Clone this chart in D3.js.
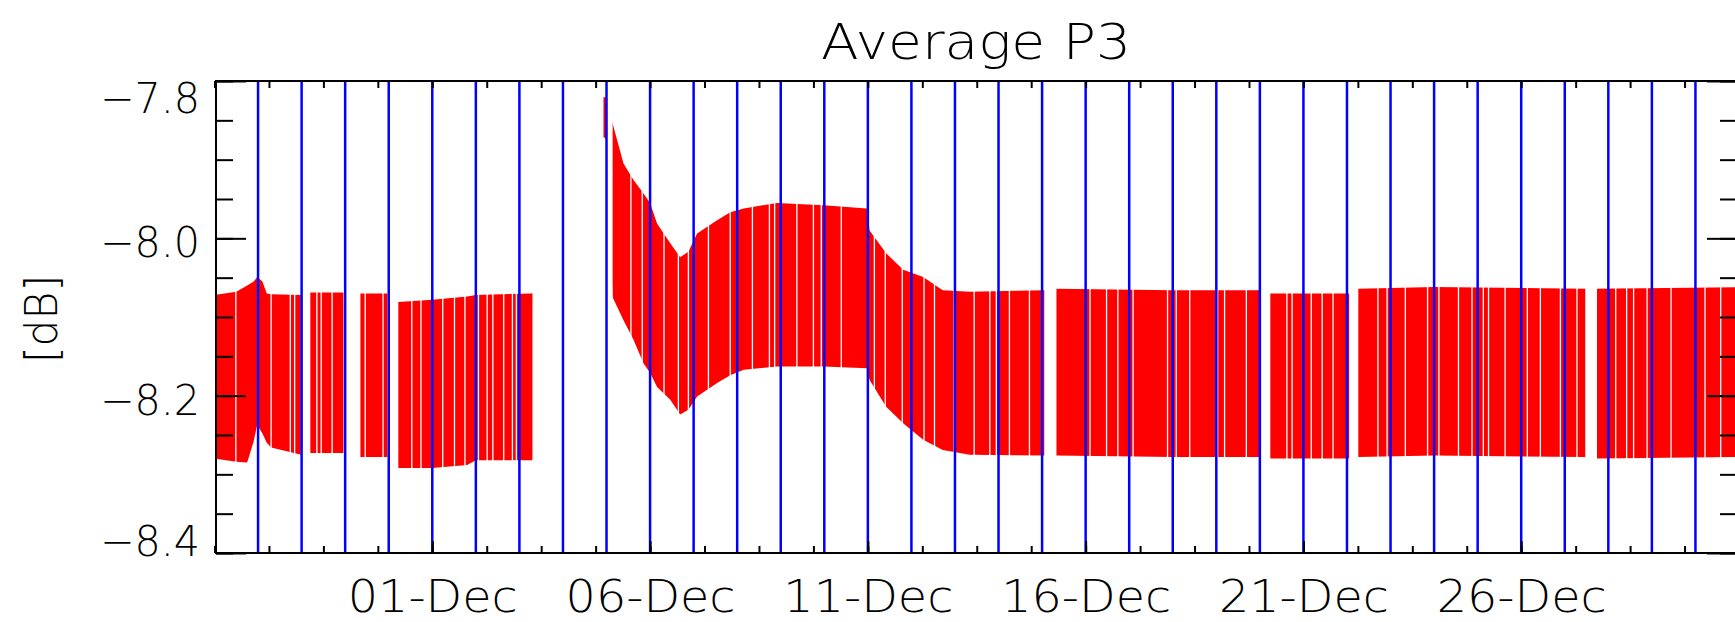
<!DOCTYPE html>
<html>
<head>
<meta charset="utf-8">
<script src="https://cdn.jsdelivr.net/npm/d3@7"></script>
<style>
  html, body { margin: 0; padding: 0; background: #fff; }
  svg { display: block; }
  text { font-family: "DejaVu Sans", Lato, sans-serif; font-weight: 200; fill: #000; }
</style>
</head>
<body>
<div id="chart"></div>
<script>
// time is kept as days since 26-Nov 00:00
const START = new Date(2013, 10, 26);
const SPAN_DAYS = 35;

// blocks where samples exist [start, end] (days)
const segStart = [0.03, 2.20, 3.35, 4.22, 8.93, 9.14, 19.33, 24.24, 26.26, 31.74];
const segEnd   = [1.98, 2.96, 3.97, 7.30, 9.01, 19.05, 24.01, 26.05, 31.47, 34.95];

// spread of the P3 samples: upper and lower edge (dB) at each knot
const envDay = [0.00, 0.50, 0.75, 0.90, 0.98, 1.10, 1.20, 1.30, 1.99,
  2.20, 2.96, 3.35, 3.97, 4.22, 5.00, 5.80, 6.00, 7.30,
  8.93, 9.01, 9.14, 9.39, 9.62, 9.85, 10.00, 10.16, 10.46, 10.69, 10.88, 11.08,
  11.54, 11.84, 12.15, 12.91, 13.98, 14.98, 15.04, 15.42, 15.81, 16.27, 16.72, 17.34, 19.05,
  19.33, 22.00, 24.01, 24.24, 26.05, 26.26, 28.00, 31.47, 31.74, 34.95];
const envHi = [-8.072, -8.068, -8.060, -8.055, -8.049, -8.055, -8.070, -8.071, -8.072,
  -8.069, -8.069, -8.070, -8.070, -8.081, -8.078, -8.074, -8.072, -8.070,
  -7.820, -7.822, -7.854, -7.905, -7.926, -7.943, -7.955, -7.981, -8.006, -8.024, -8.017, -7.994,
  -7.977, -7.967, -7.962, -7.955, -7.958, -7.962, -7.990, -8.019, -8.040, -8.049, -8.066, -8.068, -8.066,
  -8.064, -8.066, -8.066, -8.070, -8.070, -8.064, -8.062, -8.064, -8.064, -8.062];
const envLo = [-8.280, -8.284, -8.285, -8.258, -8.237, -8.248, -8.260, -8.266, -8.275,
  -8.273, -8.273, -8.278, -8.278, -8.292, -8.292, -8.288, -8.282, -8.282,
  -7.871, -7.875, -8.075, -8.104, -8.129, -8.159, -8.171, -8.189, -8.205, -8.224, -8.218, -8.201,
  -8.184, -8.174, -8.167, -8.163, -8.163, -8.165, -8.180, -8.214, -8.235, -8.256, -8.269, -8.275, -8.276,
  -8.276, -8.278, -8.278, -8.280, -8.280, -8.278, -8.276, -8.278, -8.280, -8.278];

// short dropouts inside the blocks (days)
const dropDay = [0.49, 1.30, 1.74, 1.84, 2.35, 2.45, 2.70, 3.46, 3.87, 4.53, 4.74,
  5.24, 5.51, 5.75, 6.06, 6.26, 6.39, 6.64, 6.84, 6.93,
  9.56, 9.82, 10.32, 10.65, 10.88, 11.34, 11.84, 12.35, 12.74, 12.86, 13.37,
  13.75, 13.93, 14.39, 15.15, 15.40, 15.79, 16.29, 16.53, 16.98, 17.44, 17.80,
  17.95, 18.25, 18.71, 20.10, 20.48, 20.74, 21.09, 21.88, 22.08, 22.39, 23.03,
  23.19, 23.69, 24.62, 24.74, 25.18, 25.43, 25.68, 26.71, 26.92, 27.34, 27.85,
  28.11, 28.56, 28.87, 29.13, 29.25, 29.63, 30.14, 30.44, 30.90, 31.28, 32.17,
  32.42, 32.58, 32.89, 33.44, 34.22, 34.58];

const yTicks = [-8.4, -8.2, -8.0, -7.8];
const labelDays = [5, 10, 15, 20, 25, 30];

const W = 1735, H = 622;
const pL = 216, pR = 1737, pT = 81, pB = 553;

const day = d => new Date(START.getTime() + d * 864e5);

const x = d3.scaleTime()
  .domain([START, day(SPAN_DAYS)])
  .range([214.5, 1739]);
const y = d3.scaleLinear()
  .domain([-8.4, -7.8])
  .range([pB, pT]);

const svg = d3.select('#chart').append('svg')
  .attr('width', W)
  .attr('height', H);

svg.append('clipPath').attr('id', 'plot')
  .append('rect')
  .attr('x', pL).attr('y', pT)
  .attr('width', pR - pL).attr('height', pB - pT);

svg.append('clipPath').attr('id', 'segs')
  .selectAll('rect')
  .data(d3.range(segStart.length))
  .join('rect')
  .attr('x', i => x(day(segStart[i])))
  .attr('width', i => x(day(segEnd[i])) - x(day(segStart[i])))
  .attr('y', pT)
  .attr('height', pB - pT);

const env = envDay.map((d, i) => ({ d, hi: envHi[i], lo: envLo[i] }));

const plot = svg.append('g').attr('clip-path', 'url(#plot)');
const data = plot.append('g').attr('clip-path', 'url(#segs)');

data.append('path')
  .datum(env)
  .attr('fill', '#ff0000')
  .attr('d', d3.area()
    .x(p => x(day(p.d)))
    .y0(p => y(p.lo))
    .y1(p => y(p.hi)));

data.selectAll('line.drop')
  .data(dropDay)
  .join('line')
  .attr('class', 'drop')
  .attr('x1', d => x(day(d))).attr('x2', d => x(day(d)))
  .attr('y1', pT).attr('y2', pB)
  .attr('stroke', '#fff')
  .attr('stroke-width', 1.3);

// day boundaries
plot.selectAll('line.day')
  .data(d3.range(1, SPAN_DAYS))
  .join('line')
  .attr('class', 'day')
  .attr('x1', d => x(day(d))).attr('x2', d => x(day(d)))
  .attr('y1', pT).attr('y2', pB)
  .attr('stroke', '#0000ff')
  .attr('stroke-width', 2.5);

// axes
const minorX = d3.range(0, SPAN_DAYS + 0.01, 1.25).map(day);
const majorX = labelDays.map(day);
const fmtDate = d3.timeFormat('%d-%b');

function styleAxis(g) {
  g.select('.domain').remove();
  g.selectAll('line').attr('stroke', '#000').attr('stroke-width', 2);
}

svg.append('g')
  .attr('transform', `translate(0,${pB})`)
  .call(d3.axisBottom(x).tickValues(minorX).tickSize(-7).tickFormat(''))
  .call(styleAxis);
svg.append('g')
  .attr('transform', `translate(0,${pT})`)
  .call(d3.axisTop(x).tickValues(minorX).tickSize(-7).tickFormat(''))
  .call(styleAxis);

const xLab = svg.append('g')
  .attr('transform', `translate(0,${pB})`)
  .call(d3.axisBottom(x).tickValues(majorX).tickSize(-12).tickFormat(fmtDate))
  .call(styleAxis);
xLab.selectAll('text')
  .attr('y', 59).attr('dy', 0)
  .attr('font-size', 44)
  .attr('textLength', 170)
  .attr('lengthAdjust', 'spacingAndGlyphs');

const minorY = d3.range(-8.4, -7.79, 0.05);

svg.append('g')
  .attr('transform', `translate(${pL},0)`)
  .call(d3.axisLeft(y).tickValues(minorY).tickSize(-17).tickFormat(''))
  .call(styleAxis);
svg.append('g')
  .attr('transform', `translate(${pR},0)`)
  .call(d3.axisRight(y).tickValues(minorY).tickSize(-17).tickFormat(''))
  .call(styleAxis);
svg.append('g')
  .attr('transform', `translate(${pR},0)`)
  .call(d3.axisRight(y).tickValues(yTicks).tickSize(-30).tickFormat(''))
  .call(styleAxis);

const yLab = svg.append('g')
  .attr('transform', `translate(${pL},0)`)
  .call(d3.axisLeft(y).tickValues(yTicks).tickSize(-30).tickPadding(16).tickFormat(d3.format('.1f')))
  .call(styleAxis);
yLab.selectAll('text')
  .attr('font-size', 42)
  .attr('dy', 0)
  .attr('textLength', 100)
  .attr('lengthAdjust', 'spacingAndGlyphs')
  .attr('y', v => {
    const base = y(v) + 18.5;
    return Math.min(Math.max(base, pT + 31), pB + 2) - y(v);
  });

// frame
svg.append('rect')
  .attr('x', pL).attr('y', pT)
  .attr('width', pR - pL).attr('height', pB - pT)
  .attr('fill', 'none')
  .attr('stroke', '#000')
  .attr('stroke-width', 2);

svg.append('text')
  .attr('x', 976).attr('y', 59)
  .attr('text-anchor', 'middle')
  .attr('font-size', 49)
  .attr('textLength', 310)
  .attr('lengthAdjust', 'spacingAndGlyphs')
  .text('Average P3');

svg.append('text')
  .attr('transform', 'translate(57,319) rotate(-90)')
  .attr('text-anchor', 'middle')
  .attr('font-size', 44)
  .attr('textLength', 88)
  .attr('lengthAdjust', 'spacingAndGlyphs')
  .text('[dB]');
</script>
</body>
</html>
